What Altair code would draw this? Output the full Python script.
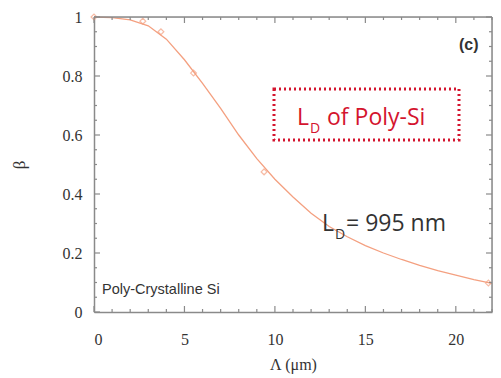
import altair as alt
import pandas as pd

# measured points (open diamonds)
pt_x = [0.0, 2.7, 3.7, 5.5, 9.4, 21.8]
pt_y = [1.0, 0.986, 0.95, 0.81, 0.475, 0.098]

# fitted curve
fit_x = [0, 1, 2, 3, 4, 5, 6, 7, 8, 9, 10, 11, 12, 13, 14, 15, 16, 17, 18, 19, 20, 21, 22]
fit_y = [1.0, 0.998, 0.99, 0.97, 0.925, 0.855, 0.775, 0.69, 0.60, 0.52, 0.45, 0.39,
         0.335, 0.29, 0.255, 0.225, 0.20, 0.178, 0.158, 0.14, 0.125, 0.11, 0.097]

x_major = [0, 5, 10, 15, 20]
x_minor = [v for v in range(0, 23) if v % 5 != 0]
y_major = [0, 0.2, 0.4, 0.6, 0.8, 1.0]
y_minor = [round(0.05 * i, 2) for i in range(21) if i % 4 != 0]

W, H = 398, 295
LINE = "#f4a080"
AX = "#8a8a8a"

xs = alt.Scale(domain=[0, 22], nice=False)
ys = alt.Scale(domain=[0, 1], nice=False)

fit_df = pd.DataFrame({"x": fit_x, "y": fit_y})
pt_df = pd.DataFrame({"x": pt_x, "y": pt_y})

base_axes = alt.Chart(fit_df).mark_line(color=LINE, strokeWidth=1.3).encode(
    x=alt.X("x:Q", scale=xs, axis=alt.Axis(
        values=x_major, format="d", title="Λ (μm)", ticks=False, grid=False,
        domainColor=AX, domainWidth=1.5, labelFont="Liberation Serif", labelFontSize=16,
        labelColor="#333", labelPadding=19, titleFont="Liberation Serif", titleFontSize=16,
        titleFontWeight="normal", titleColor="#333", titlePadding=9)),
    y=alt.Y("y:Q", scale=ys, axis=alt.Axis(
        values=y_major, labelExpr="datum.value == 0 ? '0' : datum.value == 1 ? '1' : format(datum.value, '.1f')",
        title="β", ticks=False, grid=False, domainColor=AX, domainWidth=1.5,
        labelFont="Liberation Serif", labelFontSize=16, labelColor="#333", labelPadding=12,
        titleFont="Liberation Serif", titleFontSize=17, titleFontWeight="normal",
        titleColor="#333", titlePadding=34)),
)

points = alt.Chart(pt_df).mark_point(shape="diamond", filled=False, color=LINE, size=34,
                                     strokeWidth=1.2).encode(
    x=alt.X("x:Q", scale=xs), y=alt.Y("y:Q", scale=ys))

def xticks(vals, ln):
    d = pd.DataFrame({"v": vals})
    bot = alt.Chart(d).mark_rule(color=AX, strokeWidth=1.2).encode(
        x=alt.X("v:Q", scale=xs), y=alt.value(H), y2=alt.value(H - ln))
    top = alt.Chart(d).mark_rule(color=AX, strokeWidth=1.2).encode(
        x=alt.X("v:Q", scale=xs), y=alt.value(0), y2=alt.value(ln))
    return bot + top

def yticks(vals, ln):
    d = pd.DataFrame({"v": vals})
    left = alt.Chart(d).mark_rule(color=AX, strokeWidth=1.2).encode(
        y=alt.Y("v:Q", scale=ys), x=alt.value(0), x2=alt.value(ln))
    right = alt.Chart(d).mark_rule(color=AX, strokeWidth=1.2).encode(
        y=alt.Y("v:Q", scale=ys), x=alt.value(W), x2=alt.value(W - ln))
    return left + right

frame = alt.Chart(pd.DataFrame({"a": [0]})).mark_rule(color=AX, strokeWidth=1.5).encode(
    x=alt.value(0), x2=alt.value(W), y=alt.value(0))
frame_r = alt.Chart(pd.DataFrame({"a": [0]})).mark_rule(color=AX, strokeWidth=1.5).encode(
    x=alt.value(W), y=alt.value(0), y2=alt.value(H))

one = pd.DataFrame({"a": [0]})
RED = "#d4142e"
box = alt.Chart(one).mark_rect(fill="white", fillOpacity=0.0, stroke=RED, strokeWidth=3,
                               strokeDash=[2, 3]).encode(
    x=alt.value(180), x2=alt.value(365), y=alt.value(72), y2=alt.value(123))

def txt(s, x, y, size, color, font, weight="normal", base="alphabetic"):
    return alt.Chart(one).mark_text(text=s, align="left", baseline=base, fontSize=size,
                                    color=color, font=font, fontWeight=weight).encode(
        x=alt.value(x), y=alt.value(y))

SANS = "Open Sans"
annots = (
    txt("L", 203, 108, 23, RED, SANS)
    + txt("D", 216, 116, 14, RED, SANS)
    + txt("of Poly-Si", 233, 108, 23, RED, SANS)
    + txt("L", 228, 214, 23, "#333", SANS)
    + txt("D", 241, 222, 14, "#333", SANS)
    + txt("= 995 nm", 252, 214, 23, "#333", SANS)
    + txt("(c)", 365, 33, 16, "#333", "Liberation Sans", "bold")
    + txt("Poly-Crystalline Si", 8, 277, 14.5, "#333", "Liberation Sans")
)

chart = alt.layer(
    base_axes, points,
    xticks(x_major, 6), xticks(x_minor, 3), yticks(y_major, 6), yticks(y_minor, 3),
    frame, frame_r, box, annots
).properties(
    width=W, height=H,
    autosize=alt.AutoSizeParams(type="none"),
    padding={"left": 94, "top": 17, "right": 9, "bottom": 66},
).configure_view(stroke=None).configure(background="white")

chart.save("out.html", embed_options={"renderer": "svg", "actions": False})
